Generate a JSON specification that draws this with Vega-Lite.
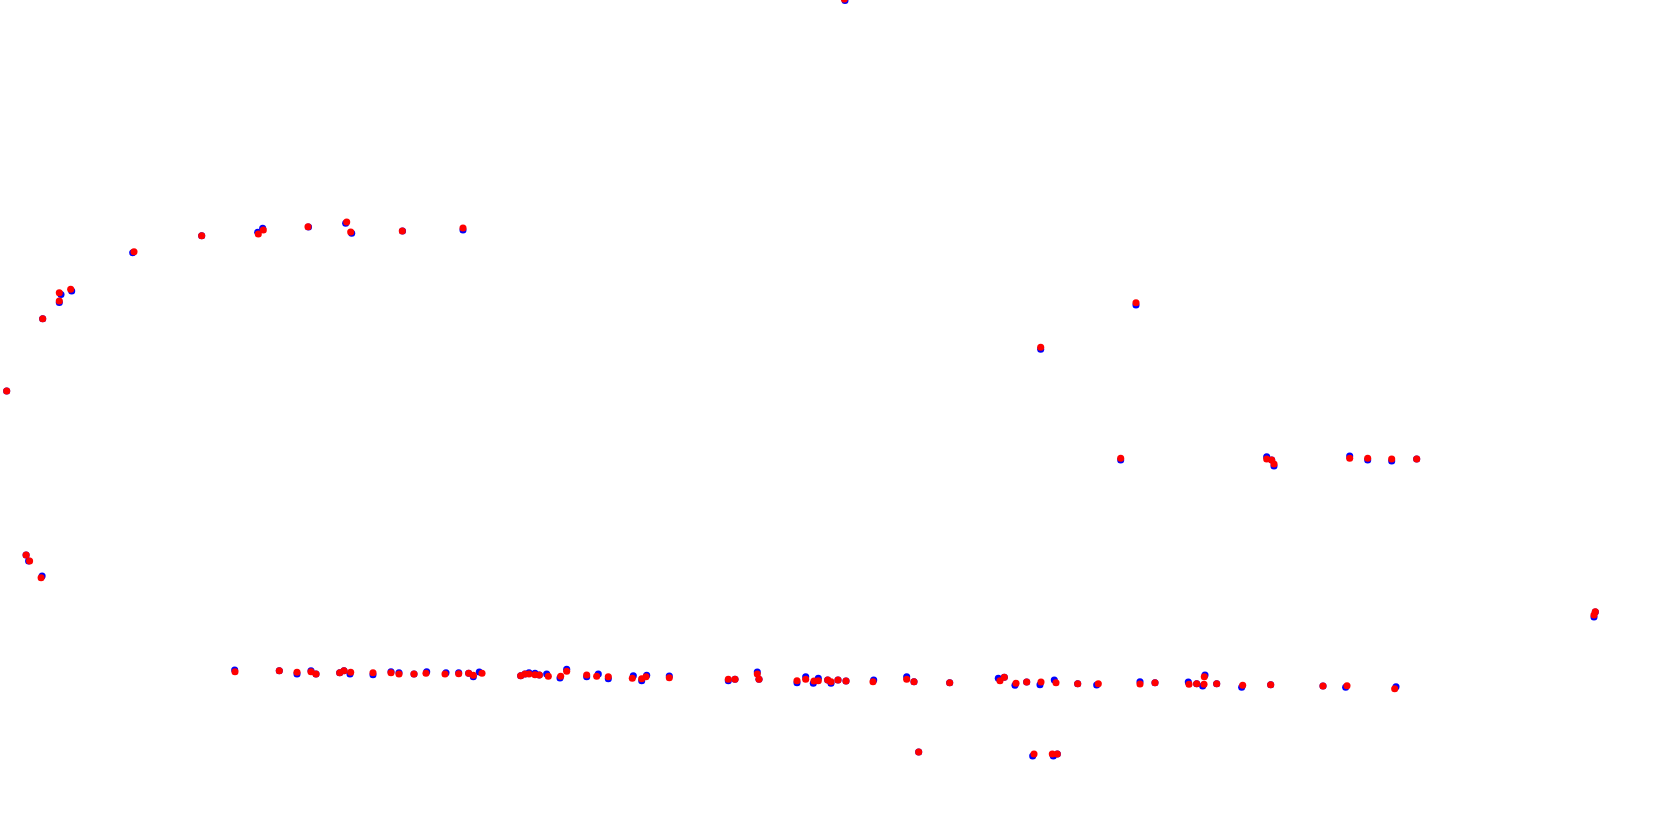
{
  "$schema": "https://vega.github.io/schema/vega-lite/v6.json",
  "width": 1680,
  "height": 827,
  "padding": 0,
  "autosize": {"type": "fit", "contains": "padding"},
  "background": "white",
  "config": {"view": {"stroke": null}},
  "data": {"values": [
    {"s":"A","px":6.7,"py":391},{"s":"A","px":42.7,"py":318.7},{"s":"A","px":59.3,"py":302.5},{"s":"A","px":61,"py":294.5},{"s":"A","px":71.7,"py":291},{"s":"A","px":132.7,"py":252.7},{"s":"A","px":201.7,"py":235.7},{"s":"A","px":257.7,"py":232.3},{"s":"A","px":262.7,"py":228.3},{"s":"A","px":308.5,"py":227},{"s":"A","px":345.7,"py":223.3},{"s":"A","px":351.7,"py":233.3},{"s":"A","px":402.5,"py":231},{"s":"A","px":463,"py":230},
    {"s":"A","px":26.1,"py":555},{"s":"A","px":28.6,"py":561},{"s":"A","px":42.1,"py":576},
    {"s":"A","px":234.7,"py":670},{"s":"A","px":279.3,"py":670.7},{"s":"A","px":297,"py":674},{"s":"A","px":311,"py":670.7},{"s":"A","px":316,"py":674},{"s":"A","px":339.7,"py":672.7},{"s":"A","px":344,"py":670.7},{"s":"A","px":350,"py":674},{"s":"A","px":373,"py":674.7},{"s":"A","px":391,"py":671.7},{"s":"A","px":399,"py":672.7},{"s":"A","px":414,"py":674},{"s":"A","px":426.7,"py":671.7},{"s":"A","px":446,"py":672.7},{"s":"A","px":458.7,"py":672.7},{"s":"A","px":468.7,"py":673.3},{"s":"A","px":473.3,"py":676.7},{"s":"A","px":479.3,"py":672},{"s":"A","px":520.7,"py":675.7},{"s":"A","px":525,"py":674},{"s":"A","px":529,"py":672.7},{"s":"A","px":535,"py":673.3},{"s":"A","px":539.3,"py":675},{"s":"A","px":546.7,"py":674},{"s":"A","px":560,"py":678},{"s":"A","px":566.7,"py":669.3},{"s":"A","px":586.7,"py":676.7},{"s":"A","px":598.3,"py":674},{"s":"A","px":608.3,"py":678.7},{"s":"A","px":633.3,"py":675.7},{"s":"A","px":641.7,"py":680.7},{"s":"A","px":646.7,"py":675.3},
    {"s":"A","px":669.3,"py":676},{"s":"A","px":728.3,"py":680.7},{"s":"A","px":735,"py":679.3},{"s":"A","px":757.3,"py":672},{"s":"A","px":759,"py":679.3},{"s":"A","px":797,"py":682.7},{"s":"A","px":805.7,"py":676.7},{"s":"A","px":813.3,"py":683.3},{"s":"A","px":818.3,"py":678.3},{"s":"A","px":827.7,"py":680},{"s":"A","px":831,"py":683.3},{"s":"A","px":838,"py":680},{"s":"A","px":846,"py":681},{"s":"A","px":873.7,"py":680},{"s":"A","px":906.7,"py":676.7},{"s":"A","px":914,"py":681.7},{"s":"A","px":949.7,"py":682.7},{"s":"A","px":998.3,"py":678.3},{"s":"A","px":1004.3,"py":677.3},{"s":"A","px":1015,"py":685.3},{"s":"A","px":1026.7,"py":682},{"s":"A","px":1040,"py":684.7},{"s":"A","px":1054.3,"py":680},{"s":"A","px":1077.7,"py":683.7},
    {"s":"A","px":1096.7,"py":685},{"s":"A","px":1140,"py":681.7},{"s":"A","px":1155,"py":682.7},{"s":"A","px":1188.3,"py":682},{"s":"A","px":1196.7,"py":683.7},{"s":"A","px":1202.7,"py":686},{"s":"A","px":1205,"py":675},{"s":"A","px":1216.7,"py":683.7},{"s":"A","px":1241.7,"py":687.3},{"s":"A","px":1270.7,"py":684.7},{"s":"A","px":1323,"py":686},{"s":"A","px":1345.7,"py":687.3},{"s":"A","px":1396,"py":686.7},
    {"s":"A","px":918.7,"py":752},{"s":"A","px":1032.7,"py":756},{"s":"A","px":1053.3,"py":756},{"s":"A","px":1057.3,"py":754},
    {"s":"A","px":1136,"py":305},{"s":"A","px":1040.7,"py":349.3},{"s":"A","px":1120.7,"py":460},{"s":"A","px":1266.7,"py":456.7},{"s":"A","px":1271.7,"py":460},{"s":"A","px":1274,"py":466},{"s":"A","px":1349.7,"py":456},{"s":"A","px":1367.7,"py":460},{"s":"A","px":1391.7,"py":461},{"s":"A","px":1416.7,"py":459},
    {"s":"A","px":845,"py":0.5},{"s":"A","px":1594,"py":617},{"s":"A","px":1595.3,"py":612},

    {"s":"B","px":6.7,"py":391},{"s":"B","px":42.7,"py":318.7},{"s":"B","px":59.3,"py":301},{"s":"B","px":59.3,"py":292.7},{"s":"B","px":70.7,"py":289.3},{"s":"B","px":134,"py":251.7},{"s":"B","px":201.7,"py":235.7},{"s":"B","px":258.3,"py":234},{"s":"B","px":263.3,"py":230},{"s":"B","px":308,"py":226.7},{"s":"B","px":346.7,"py":222},{"s":"B","px":350.7,"py":232},{"s":"B","px":402.3,"py":231},{"s":"B","px":463,"py":228},
    {"s":"B","px":26.1,"py":555},{"s":"B","px":29.6,"py":561},{"s":"B","px":41.1,"py":577.7},
    {"s":"B","px":235,"py":671.7},{"s":"B","px":279.3,"py":670.7},{"s":"B","px":297,"py":672.3},{"s":"B","px":311,"py":671.7},{"s":"B","px":316,"py":674},{"s":"B","px":339.7,"py":672.7},{"s":"B","px":344,"py":670.7},{"s":"B","px":350.7,"py":672.3},{"s":"B","px":373,"py":672.7},{"s":"B","px":391,"py":672.7},{"s":"B","px":399,"py":674},{"s":"B","px":414,"py":674},{"s":"B","px":426,"py":673.3},{"s":"B","px":445,"py":674},{"s":"B","px":458.7,"py":673.7},{"s":"B","px":468.7,"py":673.3},{"s":"B","px":473.3,"py":675.3},{"s":"B","px":482,"py":673.3},{"s":"B","px":520.7,"py":675.7},{"s":"B","px":525,"py":674},{"s":"B","px":529,"py":674},{"s":"B","px":535,"py":674.7},{"s":"B","px":539.3,"py":675},{"s":"B","px":548.3,"py":676.3},{"s":"B","px":560.7,"py":676.3},{"s":"B","px":566.7,"py":671.3},{"s":"B","px":586.7,"py":675},{"s":"B","px":596.7,"py":676.3},{"s":"B","px":608.3,"py":676.7},{"s":"B","px":632.3,"py":678.3},{"s":"B","px":641.7,"py":678.7},{"s":"B","px":646,"py":676.7},
    {"s":"B","px":669.3,"py":677.7},{"s":"B","px":728.3,"py":679.3},{"s":"B","px":735,"py":679.3},{"s":"B","px":757.3,"py":674},{"s":"B","px":759,"py":679.3},{"s":"B","px":797,"py":680.7},{"s":"B","px":805.7,"py":679.3},{"s":"B","px":814,"py":681},{"s":"B","px":818.3,"py":680.7},{"s":"B","px":827.7,"py":680},{"s":"B","px":831,"py":681.7},{"s":"B","px":838,"py":680},{"s":"B","px":846,"py":681},{"s":"B","px":873,"py":681.7},{"s":"B","px":906.7,"py":679.3},{"s":"B","px":914,"py":681.7},{"s":"B","px":949.7,"py":682.7},{"s":"B","px":1000,"py":680.7},{"s":"B","px":1004.3,"py":677.3},{"s":"B","px":1016,"py":683.3},{"s":"B","px":1026.7,"py":682},{"s":"B","px":1041,"py":682},{"s":"B","px":1056,"py":682.7},{"s":"B","px":1077.7,"py":683.7},
    {"s":"B","px":1098.3,"py":683.7},{"s":"B","px":1140,"py":684},{"s":"B","px":1155,"py":682.7},{"s":"B","px":1189,"py":684.3},{"s":"B","px":1196.7,"py":683.7},{"s":"B","px":1204,"py":684.3},{"s":"B","px":1204.3,"py":676.7},{"s":"B","px":1216.7,"py":683.7},{"s":"B","px":1242.7,"py":685.3},{"s":"B","px":1270.7,"py":684.7},{"s":"B","px":1323,"py":686},{"s":"B","px":1347,"py":685.7},{"s":"B","px":1394.7,"py":688.7},
    {"s":"B","px":918.7,"py":752},{"s":"B","px":1034,"py":754},{"s":"B","px":1052.3,"py":754},{"s":"B","px":1057.3,"py":754},
    {"s":"B","px":1136,"py":302.7},{"s":"B","px":1040.7,"py":347.3},{"s":"B","px":1120.7,"py":458.3},{"s":"B","px":1266.7,"py":459},{"s":"B","px":1271.7,"py":460},{"s":"B","px":1274,"py":464},{"s":"B","px":1349.7,"py":458.3},{"s":"B","px":1367.7,"py":458.3},{"s":"B","px":1391.7,"py":459},{"s":"B","px":1416.7,"py":459},
    {"s":"B","px":844.3,"py":-1},{"s":"B","px":1594,"py":615},{"s":"B","px":1595.3,"py":611.8}
  ]},
  "mark": {"type": "circle", "size": 50, "opacity": 1, "clip": true},
  "encoding": {
    "x": {"field": "px", "type": "quantitative", "scale": {"domain": [0, 1680], "nice": false, "zero": false}, "axis": null},
    "y": {"field": "py", "type": "quantitative", "scale": {"domain": [0, 827], "nice": false, "zero": false, "reverse": true}, "axis": null},
    "color": {"field": "s", "type": "nominal", "scale": {"domain": ["A", "B"], "range": ["#0000ff", "#ff0000"]}, "legend": null}
  }
}
